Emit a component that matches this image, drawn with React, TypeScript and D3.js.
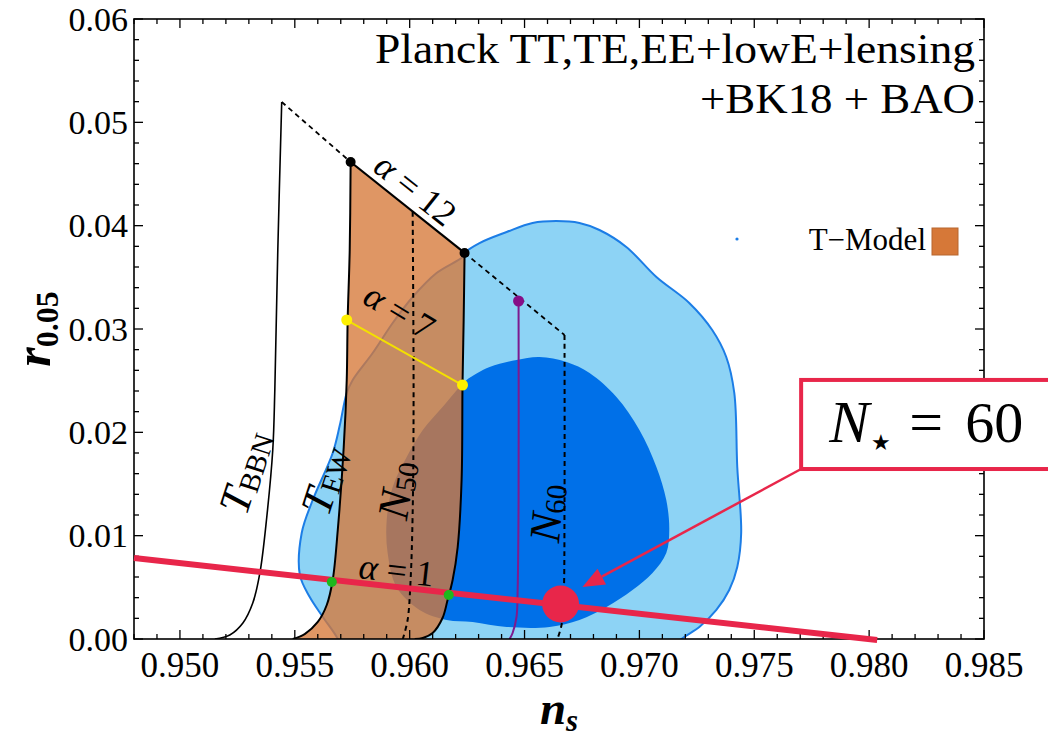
import React from 'react';
import * as d3 from 'd3';

type P = [number, number];

const X_DOMAIN: P = [0.948, 0.985];
const Y_DOMAIN: P = [0, 0.06];
const X_TICKS = [0.95, 0.955, 0.96, 0.965, 0.97, 0.975, 0.98, 0.985];
const Y_TICKS = [0.0, 0.01, 0.02, 0.03, 0.04, 0.05, 0.06];

// Planck+BK18+BAO 95% CL contour
const CONTOUR_95: P[] = [
  [0.96239, 0.03736], [0.96304, 0.03832], [0.96422, 0.03939], [0.96535, 0.04026],
  [0.96639, 0.04045], [0.96739, 0.04026], [0.96826, 0.03958], [0.96943, 0.03794],
  [0.97074, 0.03503], [0.97217, 0.03252], [0.97317, 0.0299], [0.97378, 0.02729],
  [0.97413, 0.02381], [0.97426, 0.01665], [0.97443, 0.01026], [0.97426, 0.00697],
  [0.97391, 0.00474], [0.97335, 0.00281], [0.97261, 0.00116], [0.97183, 0.0],
  [0.9714, -0.001], [0.964, -0.0015], [0.957, -0.001], [0.95687, 0.0],
  [0.95622, 0.00213], [0.95565, 0.00406], [0.95522, 0.0062], [0.9553, 0.01026],
  [0.95578, 0.01345], [0.95665, 0.018], [0.95696, 0.0207], [0.95726, 0.02381],
  [0.95752, 0.02507], [0.95839, 0.02768], [0.95926, 0.03058], [0.96013, 0.0331],
  [0.96117, 0.03542], [0.9623, 0.03697],
];

// 68% CL contour
const CONTOUR_68: P[] = [
  [0.96248, 0.02507], [0.96348, 0.02632], [0.96465, 0.027], [0.96565, 0.02729],
  [0.96683, 0.02681], [0.96783, 0.02574], [0.969, 0.02342], [0.97, 0.02023],
  [0.97074, 0.01665], [0.97117, 0.01345], [0.9713, 0.01055], [0.97117, 0.00832],
  [0.97057, 0.00639], [0.9697, 0.00474], [0.96857, 0.0031], [0.96739, 0.00184],
  [0.96609, 0.00116], [0.96422, 0.00116], [0.96274, 0.00165], [0.96161, 0.00184],
  [0.96043, 0.00281], [0.95943, 0.00503], [0.95904, 0.00832], [0.959, 0.01152],
  [0.95926, 0.01471], [0.95987, 0.01761], [0.96057, 0.02023], [0.96143, 0.02245],
  [0.96217, 0.02439],
];

const T_BBN: P[] = [
  [0.95443, 0.05197], [0.95426, 0.03765], [0.95413, 0.0241], [0.95404, 0.01829],
  [0.95378, 0.01181], [0.95348, 0.00639], [0.95317, 0.00348], [0.95274, 0.00155],
  [0.95217, 0.00039], [0.95152, 0.0],
];

const T_EW: P[] = [
  [0.95743, 0.04616], [0.95739, 0.03765], [0.9573, 0.03087], [0.95726, 0.02507],
  [0.95713, 0.01858], [0.95687, 0.01055], [0.95665, 0.00571], [0.95639, 0.00329],
  [0.956, 0.00165], [0.95543, 0.00048], [0.95491, 0.0],
];

const T_RIGHT: P[] = [
  [0.96239, 0.03736], [0.96235, 0.03087], [0.9623, 0.02458], [0.96226, 0.01539],
  [0.96209, 0.0089], [0.96187, 0.00571], [0.96165, 0.00377], [0.96143, 0.00203],
  [0.961, 0.00058], [0.96057, 0.0001], [0.96022, 0.0],
];

const N50: P[] = [
  [0.96013, 0.04132], [0.96017, 0.02313], [0.96013, 0.01219], [0.96004, 0.00571],
  [0.95991, 0.00184], [0.9597, 0.0],
];

const N60: P[] = [
  [0.96674, 0.02942], [0.96674, 0.01345], [0.9667, 0.00377], [0.96661, 0.00135],
  [0.96643, 0.0],
];

const PURPLE: P[] = [
  [0.96474, 0.03271], [0.96474, 0.01345], [0.9647, 0.00474], [0.96465, 0.00213],
  [0.96448, 0.00058], [0.96435, 0.0],
];

// top edge: T_BBN top -> alpha=12 (left) -> alpha=12 (right) -> N60 top
const TOP_EDGE: P[] = [
  [0.95443, 0.05197], [0.95743, 0.04616], [0.96239, 0.03736], [0.96674, 0.02942],
];

const ALPHA7: P[] = [[0.95726, 0.03087], [0.9623, 0.02458]];
const ALPHA1_DOTS: P[] = [[0.95661, 0.00552], [0.9617, 0.00426]];
const RED_LINE: P[] = [[0.948, 0.00784], [0.98035, -0.0001]];
const N_STAR_POINT: P = [0.96657, 0.00339];
const ARROW_TIP: P = [0.96752, 0.00503];
const BOX_CORNER: P = [0.97704, 0.02507];
const BOX_BOTTOM = 0.01645;

const W = 1048, H = 742;
const L = 134, R = 984, T = 19, B = 639;
const FONT = '"Liberation Serif", "DejaVu Serif", serif';
const RED = '#E8264A';

export default function App() {
  const x = d3.scaleLinear().domain(X_DOMAIN).range([L, R]);
  const y = d3.scaleLinear().domain(Y_DOMAIN).range([B, T]);
  const px = (p: P): [number, number] => [x(p[0]), y(p[1])];

  const closed = d3.line<P>().x(d => x(d[0])).y(d => y(d[1])).curve(d3.curveCatmullRomClosed.alpha(0.5));
  const smooth = d3.line<P>().x(d => x(d[0])).y(d => y(d[1])).curve(d3.curveCatmullRom.alpha(0.5));
  const straight = d3.line<P>().x(d => x(d[0])).y(d => y(d[1]));

  const orangePath =
    (smooth(T_EW) as string) +
    'L' + (smooth(T_RIGHT.slice().reverse()) as string).slice(1) + 'Z';

  const xMinor = d3.range(0, 38).map(i => 0.948 + i * 0.001);
  const yMinor = d3.range(0, 31).map(i => i * 0.002);
  const isMajorX = (v: number) => X_TICKS.some(t => Math.abs(t - v) < 1e-7);
  const isMajorY = (v: number) => Y_TICKS.some(t => Math.abs(t - v) < 1e-7);

  // arrow
  const [tx, ty] = px(ARROW_TIP);
  const [bx0, by0] = px(BOX_CORNER);
  const by1 = y(BOX_BOTTOM);
  const sx = bx0, sy = by1;
  const len = Math.hypot(tx - sx, ty - sy);
  const ux = (tx - sx) / len, uy = (ty - sy) / len;
  const hl = 22, hw = 9;
  const hbx = tx - ux * hl, hby = ty - uy * hl;
  const head = `M${tx},${ty}L${hbx - uy * hw},${hby + ux * hw}L${hbx + uy * hw},${hby - ux * hw}Z`;

  const label = (p: P, rot: number, content: React.ReactNode, key: string, size = 36) => {
    const [lx, ly] = px(p);
    return (
      <text key={key} transform={`translate(${lx},${ly}) rotate(${rot})`} textAnchor="middle"
        dominantBaseline="central" fontFamily={FONT} fontSize={size} fill="#000">
        {content}
      </text>
    );
  };

  return (
    <svg width={W} height={H} style={{ position: 'absolute', left: 0, top: 0, background: '#fff' }}>
      <defs>
        <clipPath id="plot"><rect x={L} y={T} width={R - L} height={B - T} /></clipPath>
      </defs>
      <rect width={W} height={H} fill="#fff" />
      <g clipPath="url(#plot)">
        <path d={closed(CONTOUR_95) as string} fill="#8DD3F5" />
        <path d={closed(CONTOUR_68) as string} fill="#0070E8" />
        <path d={closed(CONTOUR_95) as string} fill="none" stroke="#1C7DE6" strokeWidth={2} />
        <path d={orangePath} fill="#D67838" fillOpacity={0.78} />
        <path d={smooth(T_BBN) as string} fill="none" stroke="#000" strokeWidth={1.6} />
        <path d={smooth(T_EW) as string} fill="none" stroke="#000" strokeWidth={2} />
        <path d={smooth(T_RIGHT) as string} fill="none" stroke="#000" strokeWidth={2} />
        <path d={smooth(N50) as string} fill="none" stroke="#000" strokeWidth={2} strokeDasharray="5 4" />
        <path d={smooth(N60) as string} fill="none" stroke="#000" strokeWidth={2} strokeDasharray="5 4" />
        <path d={straight(TOP_EDGE.slice(0, 2)) as string} fill="none" stroke="#000" strokeWidth={1.8} strokeDasharray="5 4" />
        <path d={straight(TOP_EDGE.slice(2, 4)) as string} fill="none" stroke="#000" strokeWidth={1.8} strokeDasharray="5 4" />
        <path d={straight(TOP_EDGE.slice(1, 3)) as string} fill="none" stroke="#000" strokeWidth={2.2} />
        <path d={smooth(PURPLE) as string} fill="none" stroke="#7E1A8E" strokeWidth={2} />
        <path d={straight(ALPHA7) as string} fill="none" stroke="#F3E000" strokeWidth={2} />
      </g>
      <circle cx={x(PURPLE[0][0])} cy={y(PURPLE[0][1])} r={5.5} fill="#860E86" />
      {ALPHA7.map((p, i) => <circle key={'y' + i} cx={x(p[0])} cy={y(p[1])} r={5.5} fill="#FFF000" />)}
      {[TOP_EDGE[1], TOP_EDGE[2]].map((p, i) => <circle key={'b' + i} cx={x(p[0])} cy={y(p[1])} r={5} fill="#000" />)}

      {/* frame and ticks */}
      <rect x={L} y={T} width={R - L} height={B - T} fill="none" stroke="#000" strokeWidth={1.6} />
      {xMinor.map((v, i) => {
        const len = isMajorX(v) ? 9 : 5;
        return (
          <g key={'xt' + i} stroke="#000" strokeWidth={1.3}>
            <line x1={x(v)} x2={x(v)} y1={B} y2={B - len} />
            <line x1={x(v)} x2={x(v)} y1={T} y2={T + len} />
          </g>
        );
      })}
      {yMinor.map((v, i) => {
        const len = isMajorY(v) ? 9 : 5;
        return (
          <g key={'yt' + i} stroke="#000" strokeWidth={1.3}>
            <line x1={L} x2={L + len} y1={y(v)} y2={y(v)} />
            <line x1={R} x2={R - len} y1={y(v)} y2={y(v)} />
          </g>
        );
      })}
      {X_TICKS.map((v, i) => (
        <text key={'xl' + i} x={x(v)} y={677} textAnchor="middle" fontFamily={FONT} fontSize={35}>
          {d3.format('.3f')(v)}
        </text>
      ))}
      {Y_TICKS.map((v, i) => (
        <text key={'yl' + i} x={L - 6} y={y(v)} textAnchor="end" dominantBaseline="central" fontFamily={FONT} fontSize={34}>
          {d3.format('.2f')(v)}
        </text>
      ))}

      {/* red line, dots */}
      <path d={straight(RED_LINE) as string} fill="none" stroke={RED} strokeWidth={6} />
      {ALPHA1_DOTS.map((p, i) => <circle key={'g' + i} cx={x(p[0])} cy={y(p[1])} r={5} fill="#1DB81D" />)}
      <circle cx={x(N_STAR_POINT[0])} cy={y(N_STAR_POINT[1])} r={18.5} fill={RED} />

      {/* curve labels */}
      {label([0.95283, 0.01616], -72, <><tspan fontStyle="italic" fontSize={44}>T</tspan><tspan fontSize={29} dy={8}>BBN</tspan></>, 'lbbn')}
      {label([0.9563, 0.01539], -72, <><tspan fontStyle="italic" fontSize={44}>T</tspan><tspan fontSize={29} dy={8}>EW</tspan></>, 'lew')}
      {label([0.95943, 0.01442], -81, <><tspan fontStyle="italic" fontSize={44}>N</tspan><tspan fontSize={29} dy={8}>50</tspan></>, 'l50')}
      {label([0.96596, 0.01219], -85, <><tspan fontStyle="italic" fontSize={44}>N</tspan><tspan fontSize={29} dy={8}>60</tspan></>, 'l60')}
      {label([0.96025, 0.0435], 38.5, <><tspan fontStyle="italic">α</tspan> = 12</>, 'a12')}
      {label([0.95955, 0.0317], 31, <><tspan fontStyle="italic">α</tspan> = 7</>, 'a7')}
      {label([0.95943, 0.00665], 6.5, <><tspan fontStyle="italic">α</tspan> = 1</>, 'a1')}

      {/* axis titles */}
      <text transform={`translate(50,${(T + B) / 2}) rotate(-90)`} textAnchor="middle" fontFamily={FONT} fontSize={50} fontWeight="bold">
        <tspan fontStyle="italic">r</tspan><tspan fontSize={32} dy={8}>0.05</tspan>
      </text>
      <text x={(L + R) / 2} y={724} textAnchor="middle" fontFamily={FONT} fontSize={47} fontWeight="bold" fontStyle="italic">
        n<tspan fontSize={31} dy={7}>s</tspan>
      </text>

      {/* title */}
      <text x={975} y={63} textAnchor="end" fontFamily={FONT} fontSize={42} textLength={600} lengthAdjust="spacingAndGlyphs">Planck TT,TE,EE+lowE+lensing</text>
      <text x={975} y={113} textAnchor="end" fontFamily={FONT} fontSize={42} textLength={275} lengthAdjust="spacingAndGlyphs">+BK18 + BAO</text>

      {/* legend */}
      <circle cx={737} cy={239} r={1.6} fill="#1C7DE6" />
      <text x={926} y={250} textAnchor="end" fontFamily={FONT} fontSize={31}>T−Model</text>
      <rect x={932} y={228} width={26} height={27} fill="#D67838" stroke="#B7672F" strokeWidth={1} />

      {/* annotation */}
      <line x1={sx} y1={sy} x2={hbx} y2={hby} stroke={RED} strokeWidth={2.5} />
      <path d={head} fill={RED} />
      <rect x={bx0} y={by0} width={280} height={by1 - by0} fill="#fff" stroke={RED} strokeWidth={4} />
      <g fontFamily={FONT}>
        <text x={bx0 + 28} y={by0 + 62} fontSize={60} fontStyle="italic">N</text>
        <text x={bx0 + 70} y={by0 + 70} fontSize={22}>★</text>
        <text x={bx0 + 108} y={by0 + 62} fontSize={60}>=</text>
        <text x={bx0 + 164} y={by0 + 62} fontSize={58}>60</text>
      </g>
    </svg>
  );
}
